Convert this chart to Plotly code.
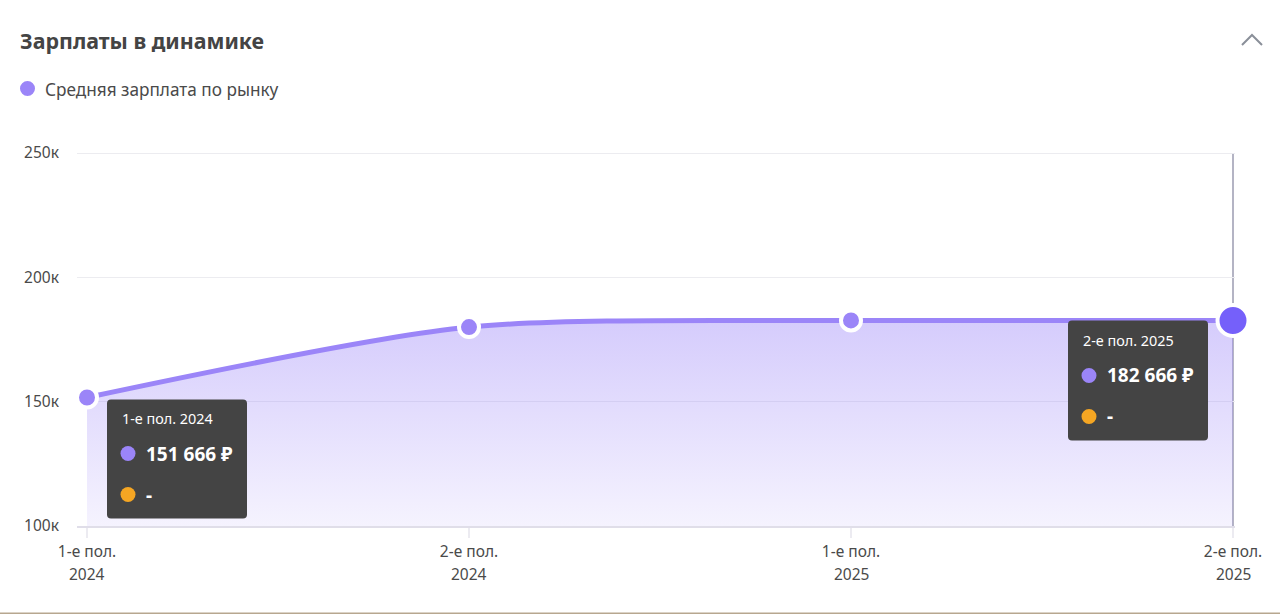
import plotly.graph_objects as go

periods = [0, 1, 2, 3]
period_labels = ["1-е пол.", "2-е пол.", "1-е пол.", "2-е пол."]
years = ["2024", "2024", "2025", "2025"]
salary = [151666, 180000, 182666, 182666]
y_ticks = [100000, 150000, 200000, 250000]
y_tick_labels = ["100к", "150к", "200к", "250к"]
series_name = "Средняя зарплата по рынку"
title_text = "Зарплаты в динамике"
tooltips = [
    (0, "1-е пол. 2024", "151 666 ₽", 20, 2, 0),
    (3, "2-е пол. 2025", "182 666 ₽", -165, 1, 1),
]
tooltip_values_y = [151666, 182666]

W, H = 1280, 614
L, R, T, B = 77, 45, 151, 88
FONT = "Noto Sans"
TEXT = "#4a4a4a"
PURPLE = "#9B85F8"
ORANGE = "#F5A623"
unit = (1233 - 87) / 3
y_unit = (526 - 153) / 150000
SMOOTH = 0.75


def paper_x(x):
    return (x - L) / (W - L - R)


def paper_y(y):
    return (H - B - y) / (H - T - B)


fig = go.Figure()
fig.add_trace(go.Scatter(
    x=periods, y=salary, mode="lines", showlegend=False, hoverinfo="skip",
    line=dict(shape="spline", smoothing=SMOOTH, width=0, color=PURPLE),
    fill="tozeroy",
    fillgradient=dict(type="vertical", start=182666, stop=100000,
                      colorscale=[[0, "rgba(155,133,248,0.42)"], [1, "rgba(155,133,248,0.10)"]]),
))
fig.add_trace(go.Scatter(
    x=periods, y=salary, mode="lines", showlegend=False, hoverinfo="skip", cliponaxis=False,
    line=dict(shape="spline", smoothing=SMOOTH, width=5, color=PURPLE),
))
fig.add_trace(go.Scatter(
    x=periods, y=salary, mode="markers", name=series_name, showlegend=False, hoverinfo="skip", cliponaxis=False,
    marker=dict(size=[20, 20, 20, 31], color=[PURPLE, PURPLE, PURPLE, "#7560FA"], opacity=1,
                line=dict(color="white", width=4)),
))

shapes = [
    dict(type="line", xref="x", yref="y", x0=3, x1=3, y0=100000, y1=250000, layer="below",
         line=dict(color="#b4b4c4", width=2)),
    dict(type="path", xref="paper", yref="paper", layer="above",
         path=f"M{paper_x(1242):.5f},{paper_y(45):.5f} L{paper_x(1252):.5f},{paper_y(35):.5f} L{paper_x(1262):.5f},{paper_y(45):.5f}",
         line=dict(color="#8a8f99", width=2)),
    dict(type="rect", xref="paper", yref="paper", layer="above",
         x0=paper_x(0), x1=paper_x(W), y0=paper_y(612.6), y1=paper_y(614),
         fillcolor="#b7a78f", line=dict(width=0)),
    dict(type="circle", xref="paper", yref="paper", layer="above",
         x0=paper_x(20), x1=paper_x(35), y0=paper_y(96), y1=paper_y(81),
         fillcolor=PURPLE, line=dict(width=0)),
]

annotations = [
    dict(x=paper_x(43), y=paper_y(89), xref="paper", yref="paper", xanchor="left", yanchor="middle",
         showarrow=False, text=series_name, font=dict(family=FONT, size=17.2, color=TEXT)),
]

for xv, yr in zip(periods, years):
    annotations.append(dict(x=xv, y=0, xref="x", yref="paper", text=yr, showarrow=False,
                            yshift=-48, yanchor="middle", xanchor="center",
                            font=dict(family=FONT, size=15.5, color=TEXT)))

for (xv, head, val, ox, oy, top_extra), yv in zip(tooltips, tooltip_values_y):
    w, h, r = 140, 119, 4
    x0, x1 = ox, ox + w
    y0, y1 = -oy + top_extra, -oy - h
    path = (f"M{x0+r},{y0} L{x1-r},{y0} Q{x1},{y0} {x1},{y0-r} L{x1},{y1+r} Q{x1},{y1} {x1-r},{y1} "
            f"L{x0+r},{y1} Q{x0},{y1} {x0},{y1+r} L{x0},{y0-r} Q{x0},{y0} {x0+r},{y0} Z")
    shapes.append(dict(type="path", layer="above", xref="x", yref="y",
                       xsizemode="pixel", ysizemode="pixel", xanchor=xv, yanchor=yv,
                       path=path, fillcolor="#444444", line=dict(width=0)))
    for cy, col in ((54, PURPLE), (95, ORANGE)):
        cx = ox + 21
        shapes.append(dict(type="circle", layer="above", xref="x", yref="y",
                           xsizemode="pixel", ysizemode="pixel", xanchor=xv, yanchor=yv,
                           x0=cx - 7.5, x1=cx + 7.5, y0=-oy - cy - 7.5, y1=-oy - cy + 7.5,
                           fillcolor=col, line=dict(width=0)))
    for txt, dy, dx, size, bold in ((head, 19, 13, 14.4, False), (val, 54, 37, 19, True), ("-", 95, 37, 19, True)):
        annotations.append(dict(
            x=xv, y=yv, xref="x", yref="y", showarrow=False, xanchor="left", yanchor="middle",
            xshift=ox + dx, yshift=-oy - dy, text=f"<b>{txt}</b>" if bold else txt,
            font=dict(family=FONT, size=size, color="white"),
        ))

fig.update_layout(
    width=W, height=H, autosize=False,
    margin=dict(l=L, r=R, t=T, b=B, pad=0),
    paper_bgcolor="white", plot_bgcolor="white",
    title=dict(text=f"<b>{title_text}</b>", x=20 / W, xanchor="left", xref="container",
               y=1 - 42 / H, yanchor="middle", yref="container",
               font=dict(family=FONT, size=21.4, color="#444444")),
    showlegend=False,
    xaxis=dict(
        range=[-10 / unit, 3 + 2 / unit], tickmode="array", tickvals=periods, ticktext=period_labels,
        showgrid=False, zeroline=False, showline=True, linecolor="#e0dee9", linewidth=2,
        ticks="outside", ticklen=10, tickcolor="#ecebf1", tickwidth=2,
        tickfont=dict(family=FONT, size=15.5, color=TEXT),
    ),
    yaxis=dict(
        range=[100000, 250000 + 2 / y_unit], tickmode="array", tickvals=y_ticks, ticktext=y_tick_labels,
        showgrid=True, gridcolor="#ececf0", gridwidth=1, zeroline=False, showline=False,
        ticks="outside", ticklen=14, tickcolor="rgba(0,0,0,0)",
        tickfont=dict(family=FONT, size=15.5, color=TEXT),
    ),
    shapes=shapes,
    annotations=annotations,
)

fig.write_html("out.html", config={"displayModeBar": False},
               post_script="document.body.style.margin='0';document.body.style.overflow='hidden';")
